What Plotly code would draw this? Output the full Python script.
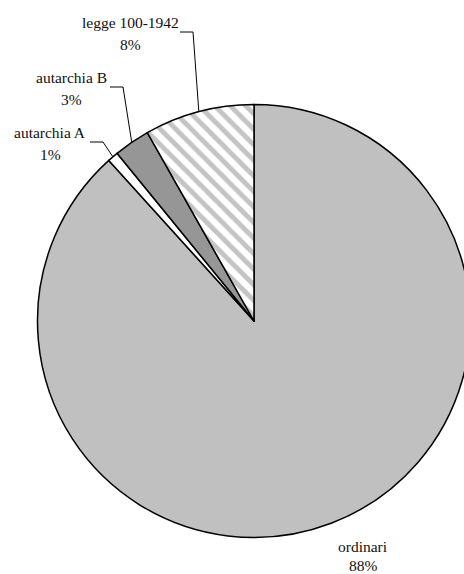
import math
import plotly.graph_objects as go

# ---- data ----
categories = ["ordinari", "autarchia A", "autarchia B", "legge 100-1942"]
values = [88.3, 0.8, 2.7, 8.2]

# ---- style / layout ----
W, H = 476, 574
CX, CY, R = 254.0, 321.0, 216.5
fill_colors = ["#c0c0c0", "#ffffff", "#969696", "#ffffff"]
pattern_shapes = ["", "", "", "\\"]
FONT = "Liberation Serif"
FS = 15.5

# label placement (pixels): name center x, name y, percent y, leader start x (None = no leader)
label_layout = {
    "legge 100-1942": (130, 22, 44, 180),
    "autarchia B": (71, 77, 99, 110),
    "autarchia A": (50, 132, 154, 90),
    "ordinari": (363, 546, 565, None),
}


def px(x):
    return x / W


def py(y):
    return 1 - y / H


fig = go.Figure(
    go.Pie(
        labels=categories,
        values=values,
        sort=False,
        direction="clockwise",
        rotation=0,
        textinfo="none",
        hoverinfo="label+percent",
        marker=dict(
            colors=fill_colors,
            line=dict(color="#000000", width=1.5),
            pattern=dict(shape=pattern_shapes, fgcolor="#c4c4c4", size=11, solidity=0.45),
        ),
        domain=dict(x=[px(CX - R), px(CX + R)], y=[py(CY + R), py(CY - R)]),
        showlegend=False,
    )
)

total = sum(values)
annotations = []
shapes = []
cum = 0.0
for cat, v in zip(categories, values):
    mid = (cum + v / 2) / total * 2 * math.pi
    cum += v
    lx, ny, pyy, lead = label_layout[cat]
    pct = f"{round(v / total * 100)}%"
    for txt, yy in ((cat, ny), (pct, pyy)):
        annotations.append(dict(
            x=px(lx), y=py(yy), xref="paper", yref="paper", text=txt,
            showarrow=False, xanchor="center", yanchor="middle",
            font=dict(family=FONT, size=FS, color="#111111"),
        ))
    if lead is not None:
        ay = (ny + pyy) / 2 - 1
        ex = CX + R * math.sin(mid)
        ey = CY - R * math.cos(mid)
        path = f"M {px(lead)} {py(ay)} L {px(lead + 13)} {py(ay)} L {px(ex)} {py(ey)}"
        shapes.append(dict(type="path", xref="paper", yref="paper", path=path,
                           line=dict(color="#000000", width=1)))

fig.update_layout(
    width=W, height=H,
    margin=dict(l=0, r=0, t=0, b=0),
    paper_bgcolor="#ffffff",
    plot_bgcolor="#ffffff",
    annotations=annotations,
    shapes=shapes,
)

fig.write_html(
    "out.html",
    post_script="document.documentElement.style.overflow='hidden';document.body.style.overflow='hidden';document.body.style.margin='0';",
)
